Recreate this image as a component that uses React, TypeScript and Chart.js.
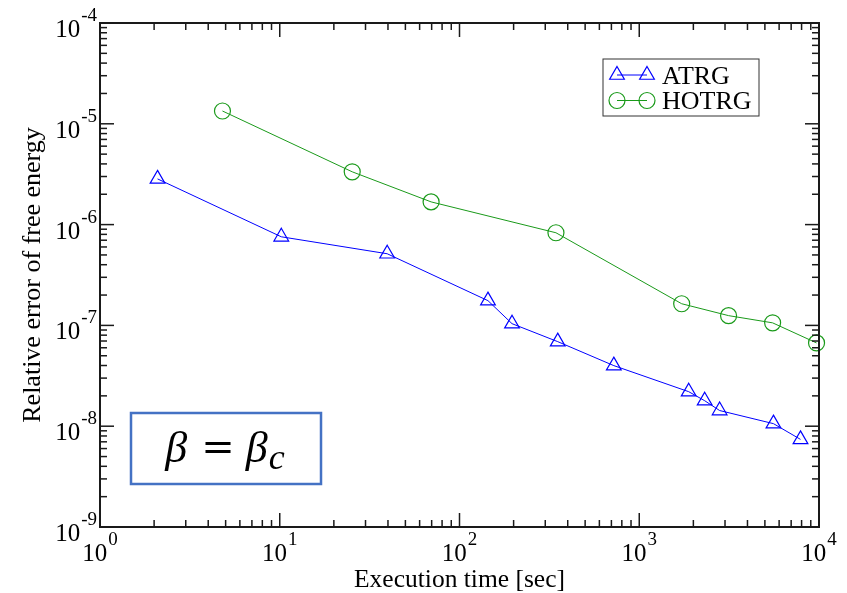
import React, { useEffect, useRef } from "react";
import { Chart, registerables } from "chart.js";

Chart.register(...registerables);

// ---- data ----
const atrgTime = [2.09, 10.2, 39.6, 144, 196, 352, 722, 1884, 2312, 2800, 5580, 7890];
const atrgError = [2.84e-6, 7.57e-7, 5.14e-7, 1.76e-7, 1.04e-7, 6.9e-8, 3.99e-8, 2.2e-8, 1.79e-8, 1.43e-8, 1.06e-8, 7.4e-9];

const hotrgTime = [4.8, 25.3, 69.5, 344, 1722, 3140, 5520, 9690];
const hotrgError = [1.34e-5, 3.34e-6, 1.68e-6, 8.3e-7, 1.64e-7, 1.25e-7, 1.06e-7, 6.7e-8];

const xMajorTicks = [1, 10, 100, 1000, 10000];
const yMajorTicks = [1e-9, 1e-8, 1e-7, 1e-6, 1e-5, 1e-4];
const minorFactors = [2, 3, 4, 5, 6, 7, 8, 9];

const seriesNames = ["ATRG", "HOTRG"];
const xTitle = "Execution time [sec]";
const yTitle = "Relative error of free energy";
const annotationLeft = "β";
const annotationEq = "=";
const annotationSub = "c";

const SERIF = "'Liberation Serif', 'Times New Roman', serif";
const BLUE = "#0000ff";
const GREEN = "#1a9a1a";
const FRAME = "#1a1a1a";

function drawPower(ctx: CanvasRenderingContext2D, v: number, x: number, baseline: number, align: "right" | "center") {
  const exp = String(Math.round(Math.log10(v)));
  ctx.font = `25px ${SERIF}`;
  const wBase = ctx.measureText("10").width;
  ctx.font = `19px ${SERIF}`;
  const wExp = ctx.measureText(exp).width;
  const total = wBase + wExp + 1;
  const start = align === "right" ? x - total : x - total / 2;
  ctx.fillStyle = "#000";
  ctx.textAlign = "left";
  ctx.textBaseline = "alphabetic";
  ctx.font = `25px ${SERIF}`;
  ctx.fillText("10", start, baseline);
  ctx.font = `19px ${SERIF}`;
  ctx.fillText(exp, start + wBase + 1, baseline - 16);
}

function legendMarker(ctx: CanvasRenderingContext2D, style: string, x: number, y: number) {
  ctx.beginPath();
  if (style === "triangle") {
    const r = 8.5;
    ctx.moveTo(x, y - r);
    ctx.lineTo(x + 0.866 * r, y + 0.5 * r);
    ctx.lineTo(x - 0.866 * r, y + 0.5 * r);
    ctx.closePath();
  } else {
    ctx.arc(x, y, 8, 0, Math.PI * 2);
  }
  ctx.stroke();
}

const gracePlugin = {
  id: "graceFrame",
  afterDraw(chart: any) {
    const { ctx, chartArea } = chart;
    const xs = chart.scales.x;
    const ys = chart.scales.y;
    const { left, right, top, bottom } = chartArea;
    ctx.save();

    // frame
    ctx.strokeStyle = FRAME;
    ctx.lineWidth = 2;
    ctx.strokeRect(left, top, right - left, bottom - top);

    // ticks
    ctx.lineWidth = 1.5;
    const major = 14;
    const minor = 7;
    const tickLine = (x1: number, y1: number, x2: number, y2: number) => {
      ctx.beginPath();
      ctx.moveTo(x1, y1);
      ctx.lineTo(x2, y2);
      ctx.stroke();
    };
    xMajorTicks.forEach((v, i) => {
      const px = xs.getPixelForValue(v);
      tickLine(px, bottom, px, bottom - major);
      tickLine(px, top, px, top + major);
      if (i < xMajorTicks.length - 1) {
        minorFactors.forEach((f) => {
          const mx = xs.getPixelForValue(v * f);
          tickLine(mx, bottom, mx, bottom - minor);
          tickLine(mx, top, mx, top + minor);
        });
      }
    });
    yMajorTicks.forEach((v, i) => {
      const py = ys.getPixelForValue(v);
      tickLine(left, py, left + major, py);
      tickLine(right, py, right - major, py);
      if (i < yMajorTicks.length - 1) {
        minorFactors.forEach((f) => {
          const my = ys.getPixelForValue(v * f);
          tickLine(left, my, left + minor, my);
          tickLine(right, my, right - minor, my);
        });
      }
    });

    // tick labels
    xMajorTicks.forEach((v) => {
      drawPower(ctx, v, xs.getPixelForValue(v), bottom + 34, "center");
    });
    yMajorTicks.forEach((v) => {
      drawPower(ctx, v, left - 3, ys.getPixelForValue(v) + 14, "right");
    });

    // legend
    const lg = { x: 603, y: 59, w: 156, h: 57 };
    ctx.fillStyle = "#fff";
    ctx.fillRect(lg.x, lg.y, lg.w, lg.h);
    ctx.strokeStyle = "#333";
    ctx.lineWidth = 1;
    ctx.strokeRect(lg.x, lg.y, lg.w, lg.h);
    const rows = [
      { name: seriesNames[0], color: BLUE, style: "triangle", y: 75 },
      { name: seriesNames[1], color: GREEN, style: "circle", y: 100.5 },
    ];
    rows.forEach((r) => {
      ctx.strokeStyle = r.color;
      ctx.lineWidth = 1;
      ctx.beginPath();
      ctx.moveTo(617, r.y);
      ctx.lineTo(647, r.y);
      ctx.stroke();
      ctx.lineWidth = 1.2;
      [617, 647].forEach((mx) => legendMarker(ctx, r.style, mx, r.y));
      ctx.fillStyle = "#000";
      ctx.font = `26px ${SERIF}`;
      ctx.textAlign = "left";
      ctx.textBaseline = "alphabetic";
      ctx.fillText(r.name, 662, r.y + 8.5);
    });

    // beta annotation box
    ctx.strokeStyle = "#4472c4";
    ctx.lineWidth = 2.5;
    ctx.strokeRect(131, 413, 190, 71);
    ctx.fillStyle = "#000";
    ctx.textBaseline = "alphabetic";
    ctx.textAlign = "left";
    const fBeta = `italic 44px ${SERIF}`;
    const fEq = `40px 'DejaVu Serif', serif`;
    const fSub = `italic 36px ${SERIF}`;
    ctx.font = fBeta;
    const wb = ctx.measureText(annotationLeft).width;
    ctx.font = fEq;
    const we = ctx.measureText(annotationEq).width;
    ctx.font = fSub;
    const ws = ctx.measureText(annotationSub).width;
    const gap1 = 14;
    const gap2 = 11;
    const total = wb * 2 + we + ws + gap1 + gap2 + 1;
    let cx = 225 - total / 2;
    const base = 462;
    ctx.font = fBeta;
    ctx.fillText(annotationLeft, cx, base);
    cx += wb + gap1;
    ctx.font = fEq;
    ctx.fillText(annotationEq, cx, base - 2);
    cx += we + gap2;
    ctx.font = fBeta;
    ctx.fillText(annotationLeft, cx, base);
    cx += wb + 1;
    ctx.font = fSub;
    ctx.fillText(annotationSub, cx, base + 7);

    ctx.restore();
  },
};

export default function App() {
  const canvasRef = useRef<HTMLCanvasElement | null>(null);

  useEffect(() => {
    const canvas = canvasRef.current;
    if (!canvas) return;
    const chart = new Chart(canvas, {
      type: "scatter",
      data: {
        datasets: [
          {
            label: seriesNames[0],
            data: atrgTime.map((x, i) => ({ x, y: atrgError[i] })),
            showLine: true,
            borderColor: BLUE,
            borderWidth: 1,
            pointStyle: "triangle",
            pointRadius: 8.5,
            pointBorderWidth: 1.2,
            pointBorderColor: BLUE,
            pointBackgroundColor: "rgba(0,0,0,0)",
            clip: false,
          } as any,
          {
            label: seriesNames[1],
            data: hotrgTime.map((x, i) => ({ x, y: hotrgError[i] })),
            showLine: true,
            borderColor: GREEN,
            borderWidth: 1,
            pointStyle: "circle",
            pointRadius: 8,
            pointBorderWidth: 1.2,
            pointBorderColor: GREEN,
            pointBackgroundColor: "rgba(0,0,0,0)",
            clip: false,
          } as any,
        ],
      },
      options: {
        responsive: false,
        animation: false,
        layout: { padding: { left: 0, top: 23, right: 28, bottom: 0 } },
        plugins: {
          legend: { display: false },
          tooltip: { enabled: false },
        },
        scales: {
          x: {
            type: "logarithmic",
            min: 1,
            max: 10000,
            grid: { display: false, drawTicks: false },
            border: { display: false },
            ticks: { display: false },
            title: {
              display: true,
              text: xTitle,
              color: "#000",
              font: { family: SERIF, size: 25.5, lineHeight: 1 },
              padding: { top: 40.5, bottom: 0 },
            },
          },
          y: {
            type: "logarithmic",
            min: 1e-9,
            max: 1e-4,
            grid: { display: false, drawTicks: false },
            border: { display: false },
            ticks: { display: false },
            title: {
              display: true,
              text: yTitle,
              color: "#000",
              font: { family: SERIF, size: 26, lineHeight: 1 },
              padding: { top: 20.5, bottom: 53.5 },
            },
          },
        },
      },
      plugins: [gracePlugin],
    });
    return () => chart.destroy();
  }, []);

  return (
    <div style={{ position: "absolute", left: 0, top: 0, width: 847, height: 593, background: "#fff" }}>
      <canvas ref={canvasRef} width={847} height={593} style={{ display: "block" }} />
    </div>
  );
}
